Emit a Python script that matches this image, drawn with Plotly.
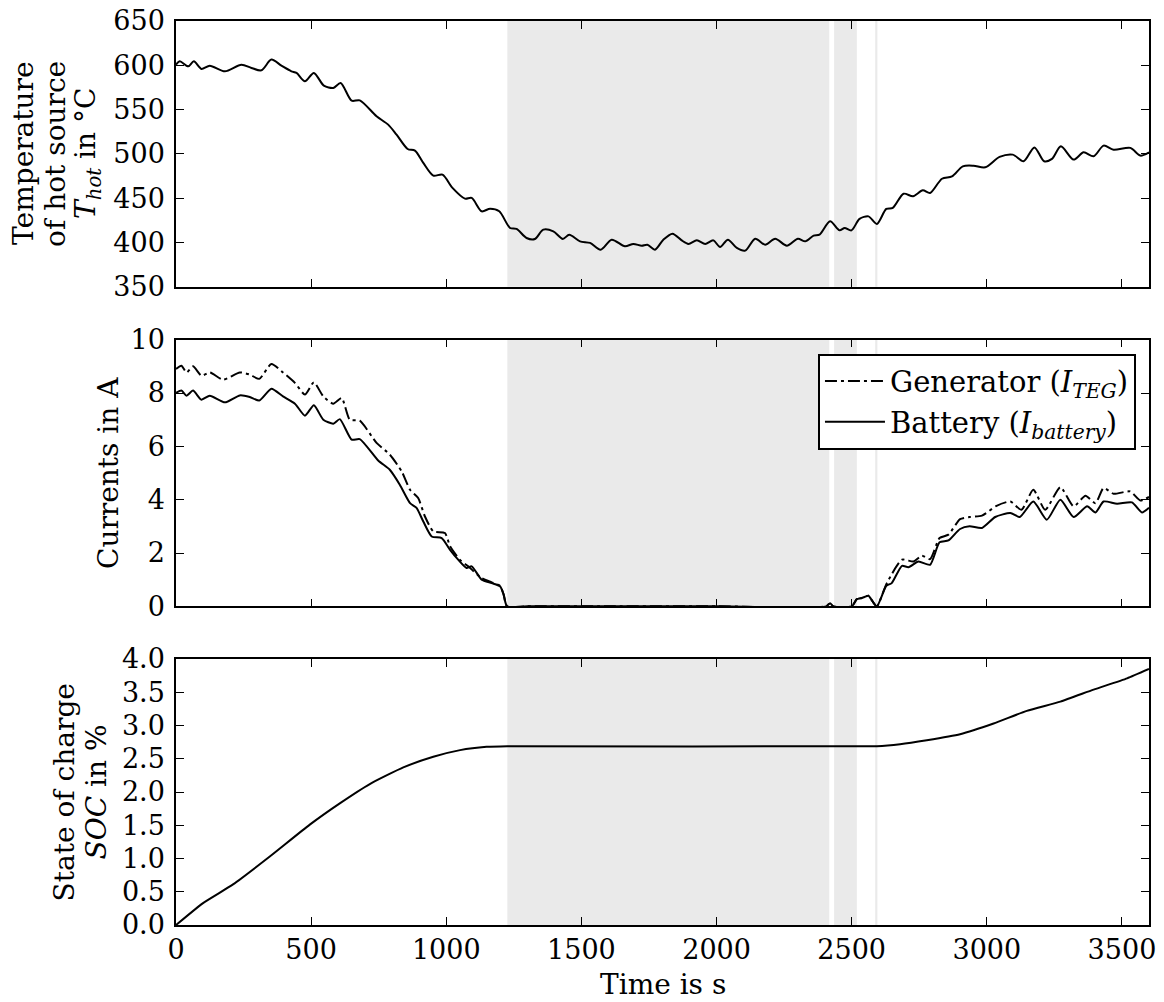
import plotly.graph_objects as go
from plotly.subplots import make_subplots

# ---------------- data ----------------
t_hot_time = [0, 14, 45, 66, 94, 125, 181, 242, 279, 316, 353, 390, 427, 446, 477, 510, 547, 582, 609,
              650, 680, 742, 785, 816, 857, 884, 915, 952, 986, 1023, 1069, 1094, 1131, 1162, 1196,
              1236, 1260, 1297, 1328, 1359, 1396, 1431, 1455, 1495, 1532, 1571, 1612, 1661, 1692,
              1723, 1744, 1772, 1803, 1837, 1871, 1896, 1927, 1958, 1988, 2013, 2042, 2075, 2106,
              2143, 2180, 2217, 2260, 2301, 2328, 2359, 2381, 2420, 2455, 2474, 2499, 2529, 2562,
              2593, 2628, 2652, 2692, 2727, 2763, 2790, 2834, 2871, 2911, 2951, 2994, 3047, 3096,
              3136, 3176, 3212, 3241, 3274, 3321, 3358, 3395, 3432, 3469, 3531, 3568, 3600]
t_hot_vals = [600.7, 604.5, 598.8, 604.5, 595.9, 599.6, 593.2, 600.7, 597, 594.3, 606.4, 599.6, 593.2,
              591.4, 581.9, 591.4, 577, 574.4, 580, 560, 560.4, 542.4, 533, 521.7, 505.5, 503.6,
              489.7, 475.4, 476.5, 461.5, 449.4, 450.2, 435.1, 438.1, 435.1, 416.3, 415.2, 405,
              403.9, 414.4, 412.5, 403.9, 408.7, 401.2, 399.4, 391.8, 403.1, 395.6, 398.3, 396.3,
              397.4, 391.8, 403.1, 409.9, 402.3, 398.3, 402.3, 398.3, 402.3, 394.8, 403.1, 393.7,
              390.7, 404.2, 397.4, 404.2, 396.3, 404.2, 401.2, 407.6, 408.7, 423.8, 413.6, 416.3,
              413.6, 426.5, 429.4, 420.8, 437.8, 438.9, 455, 452, 458.8, 455.8, 471.9, 474.5, 485.9,
              486.6, 484.8, 496.5, 499.1, 491.6, 507.3, 491.6, 494.3, 508.5, 493.5, 501.7, 497.2,
              509.3, 504.7, 506.7, 498, 501.7]

bat_time = [0, 20, 39, 63, 94, 125, 181, 236, 273, 308, 353, 396, 440, 477, 510, 545, 582, 606, 650,
            680, 748, 791, 828, 866, 890, 915, 946, 983, 1014, 1044, 1075, 1094, 1131, 1168, 1199,
            1212, 1225, 1300, 1600, 2000, 2405, 2420, 2432, 2500, 2519, 2537, 2562, 2573, 2593,
            2628, 2648, 2686, 2710, 2747, 2790, 2825, 2858, 2901, 2936, 2982, 3031, 3087, 3122,
            3172, 3222, 3272, 3321, 3371, 3402, 3432, 3482, 3537, 3574, 3600]
bat_vals = [8.0, 8.09, 7.9, 8.09, 7.75, 7.9, 7.65, 7.91, 7.85, 7.72, 8.16, 7.87, 7.6, 7.15, 7.54, 7.0,
            6.85, 7.02, 6.25, 6.27, 5.47, 5.12, 4.56, 3.87, 3.69, 3.18, 2.62, 2.56, 2.12, 1.75, 1.44,
            1.5, 1.0, 0.87, 0.75, 0.45, 0.0, 0.0, 0.0, 0.0, 0.0, 0.12, 0.0, 0.0, 0.27, 0.31, 0.4,
            0.25, 0.0, 0.77, 0.87, 1.52, 1.47, 1.68, 1.56, 2.4, 2.47, 2.9, 3.0, 2.94, 3.35, 3.5,
            3.35, 3.93, 3.25, 4.0, 3.35, 3.75, 3.52, 3.93, 3.85, 3.9, 3.52, 3.7]

teg_time = [0, 20, 39, 63, 94, 125, 174, 236, 273, 308, 353, 396, 440, 477, 510, 545, 582, 613, 643,
            680, 742, 791, 835, 866, 896, 921, 952, 995, 1014, 1050, 1081, 1131, 1168, 1199, 1212,
            1225, 1300, 1600, 2000, 2405, 2420, 2432, 2500, 2519, 2537, 2562, 2573, 2593, 2630,
            2686, 2729, 2760, 2790, 2825, 2858, 2901, 2937, 2982, 3036, 3087, 3128, 3172, 3216,
            3272, 3321, 3365, 3402, 3432, 3469, 3530, 3568, 3600]
teg_vals = [8.9, 9.02, 8.77, 9.0, 8.65, 8.77, 8.5, 8.77, 8.69, 8.53, 9.09, 8.77, 8.38, 7.94, 8.4, 7.87,
            7.6, 7.81, 7.0, 6.96, 6.13, 5.69, 5.06, 4.37, 4.06, 3.37, 2.81, 2.75, 2.25, 1.75, 1.5,
            1.06, 0.9, 0.77, 0.45, 0.0, 0.0, 0.0, 0.0, 0.0, 0.12, 0.0, 0.0, 0.27, 0.31, 0.4, 0.25,
            0.0, 0.87, 1.75, 1.68, 1.9, 1.77, 2.56, 2.69, 3.27, 3.35, 3.4, 3.77, 3.93, 3.62, 4.37,
            3.62, 4.47, 3.75, 4.15, 3.87, 4.44, 4.22, 4.31, 3.97, 4.1]

soc_time = [0, 100, 211, 347, 495, 606, 717, 841, 952, 1051, 1149, 1226, 2593, 2679, 2778, 2901,
            3025, 3148, 3272, 3395, 3519, 3600]
soc_vals = [0.0, 0.33, 0.61, 1.03, 1.51, 1.83, 2.12, 2.37, 2.53, 2.63, 2.68, 2.69, 2.69, 2.72, 2.78,
            2.87, 3.03, 3.22, 3.36, 3.54, 3.71, 3.85]

# shaded intervals (s)
shade_intervals = [(1226, 2417), (2435, 2519), (2587, 2595)]

x_ticks = [0, 500, 1000, 1500, 2000, 2500, 3000, 3500]
y1_ticks = [350, 400, 450, 500, 550, 600, 650]
y2_ticks = [0, 2, 4, 6, 8, 10]
y3_ticks = [0, 0.5, 1.0, 1.5, 2.0, 2.5, 3.0, 3.5, 4.0]

# ---------------- figure ----------------
FONT = "DejaVu Serif"
FS_TICK = 27
FS_TITLE = 28
FS_LEG = 29

fig = make_subplots(rows=3, cols=1, shared_xaxes=True, vertical_spacing=0.05)

fig.add_trace(go.Scatter(x=t_hot_time, y=t_hot_vals, mode="lines",
                         line=dict(color="black", width=2, shape="spline", smoothing=0.8),
                         showlegend=False), row=1, col=1)
fig.add_trace(go.Scatter(x=teg_time, y=teg_vals, mode="lines",
                         name="Generator (<i>I</i><sub><i>TEG</i></sub>)",
                         line=dict(color="black", width=2, shape="spline", smoothing=0.6,
                                   dash="12px,4px,3px,4px")), row=2, col=1)
fig.add_trace(go.Scatter(x=bat_time, y=bat_vals, mode="lines",
                         name="Battery (<i>I</i><sub><i>battery</i></sub>)",
                         line=dict(color="black", width=2, shape="spline", smoothing=0.6)),
              row=2, col=1)
fig.add_trace(go.Scatter(x=soc_time, y=soc_vals, mode="lines",
                         line=dict(color="black", width=2, shape="spline", smoothing=0.5),
                         showlegend=False), row=3, col=1)

# shaded regions
for r, yref in [(1, "y domain"), (2, "y2 domain"), (3, "y3 domain")]:
    xref = "x" if r == 1 else f"x{r}"
    for a, b in shade_intervals:
        fig.add_shape(type="rect", xref=xref, yref=yref, x0=a, x1=b, y0=0, y1=1,
                      fillcolor="#eaeaea", line=dict(width=0), layer="below")

axis_common = dict(showline=True, linecolor="black", linewidth=1.5, mirror="ticks",
                   ticks="inside", ticklen=8, tickwidth=1, tickcolor="black",
                   showgrid=False, zeroline=False, ticklabeloverflow="allow",
                   tickfont=dict(family=FONT, size=FS_TICK, color="black"))

for i in (1, 2, 3):
    fig.update_xaxes(range=[0, 3600], tickvals=x_ticks, **axis_common, row=i, col=1)

fig.update_xaxes(showticklabels=False, row=1, col=1)
fig.update_xaxes(showticklabels=False, row=2, col=1)
fig.update_xaxes(showticklabels=True, row=3, col=1)

fig.update_yaxes(range=[350, 650], tickvals=y1_ticks, domain=[0.7061, 1.0], ticklabelstandoff=4,
                 **axis_common, row=1, col=1)
fig.update_yaxes(range=[0, 10], tickvals=y2_ticks, domain=[0.3525, 0.6475], ticklabelstandoff=4,
                 **axis_common, row=2, col=1)
fig.update_yaxes(range=[0, 4], tickvals=y3_ticks, tickformat=".1f", domain=[0.0, 0.2942],
                 ticklabelstandoff=4, **axis_common, row=3, col=1)

ann_font = dict(family=FONT, size=FS_TITLE, color="black")


def px_to_paper_x(px):
    # px measured in the page (plot area spans 176..1149)
    return (px - 176) / 973.0


def ylab(text, px, ypaper):
    return dict(text=text, x=px_to_paper_x(px), y=ypaper, xref="paper", yref="paper",
                textangle=-90, showarrow=False, xanchor="center", yanchor="middle",
                font=ann_font)


annotations = [
    ylab("Temperature", 24, 0.853),
    ylab("of hot source", 56, 0.853),
    ylab("<i>T</i><sub><i>hot</i></sub> in °C", 88, 0.853),
    ylab("Currents in A", 108, 0.5),
    ylab("State of charge", 64, 0.1467),
    ylab("<i>SOC</i> in %", 96, 0.1467),
    dict(text="Time is s", x=0.5, y=-0.066, xref="paper", yref="paper", showarrow=False,
         xanchor="center", yanchor="middle", font=ann_font),
]

fig.update_layout(
    width=1156, height=994,
    margin=dict(l=168, r=15, t=13, b=77, autoexpand=False),
    plot_bgcolor="white", paper_bgcolor="white",
    font=dict(family=FONT, size=FS_TICK, color="black"),
    annotations=annotations,
    legend=dict(x=0.9866, y=0.632, xanchor="right", yanchor="top",
                bgcolor="white", bordercolor="black", borderwidth=2,
                font=dict(family=FONT, size=FS_LEG, color="black"),
                tracegroupgap=0, itemwidth=60),
)

fig.write_html("out.html")
